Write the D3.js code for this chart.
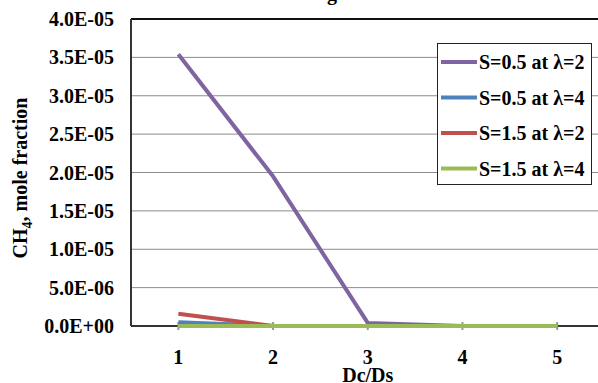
<!DOCTYPE html>
<meta charset="utf-8">
<head>
<script src="https://d3js.org/d3.v7.min.js"></script>
<style>
  body { margin: 0; background: #fff; }
  text { font-family: "Liberation Serif", "Times New Roman", serif; font-weight: bold; }
</style>
</head>
<body>
<div id="chart"></div>
<script>
  // data
  var categories = [1, 2, 3, 4, 5];
  var seriesNames = ["S=0.5 at \u03bb=2", "S=0.5 at \u03bb=4", "S=1.5 at \u03bb=2", "S=1.5 at \u03bb=4"];
  var s05l2 = [3.54e-5, 1.95e-5, 4.0e-7, 0, 0];
  var s05l4 = [5.0e-7, 0, 0, 0, 0];
  var s15l2 = [1.6e-6, 0, 0, 0, 0];
  var s15l4 = [0, 0, 0, 0, 0];
  var yTicks = [0, 5e-6, 1e-5, 1.5e-5, 2e-5, 2.5e-5, 3e-5, 3.5e-5, 4e-5];
  var yTickLabels = ["0.0E+00", "5.0E-06", "1.0E-05", "1.5E-05", "2.0E-05", "2.5E-05", "3.0E-05", "3.5E-05", "4.0E-05"];
  var colors = ["#8064A2", "#4F81BD", "#C0504D", "#9BBB59"];
  var allSeries = [s05l2, s05l4, s15l2, s15l4];

  var W = 598, H = 383;
  var plot = {left: 131, top: 19, bottom: 326, right: 604.5};

  var svg = d3.select("#chart").append("svg")
    .attr("width", W).attr("height", H);

  var x = d3.scaleBand().domain(categories).range([plot.left, plot.right]);
  var y = d3.scaleLinear().domain([0, 4e-5]).range([plot.bottom, plot.top]);
  var cx = function(c) { return x(c) + x.bandwidth() / 2; };

  // title, mostly above the window
  svg.append("text")
    .attr("x", 345).attr("y", 0)
    .attr("text-anchor", "middle")
    .style("font-size", "20px")
    .text("Figure 6");

  // gridlines
  svg.append("g")
    .selectAll("line")
    .data(yTicks.slice(1, -1))
    .enter()
    .append("line")
      .attr("x1", plot.left).attr("x2", plot.right)
      .attr("y1", function(d) { return y(d); })
      .attr("y2", function(d) { return y(d); })
      .attr("stroke", "#8c8c8c").attr("stroke-width", 1);

  // frame: top and left dark, bottom axis dark
  svg.append("line").attr("x1", plot.left).attr("x2", plot.right).attr("y1", y(4e-5)).attr("y2", y(4e-5))
    .attr("stroke", "#111").attr("stroke-width", 2);
  svg.append("line").attr("x1", plot.left).attr("x2", plot.left).attr("y1", plot.top).attr("y2", plot.bottom)
    .attr("stroke", "#333").attr("stroke-width", 2);
  svg.append("line").attr("x1", plot.left).attr("x2", plot.right).attr("y1", plot.bottom).attr("y2", plot.bottom)
    .attr("stroke", "#333").attr("stroke-width", 2);

  // x tick marks at categories
  svg.append("g")
    .selectAll("line")
    .data(categories)
    .enter()
    .append("line")
      .attr("x1", cx).attr("x2", cx)
      .attr("y1", plot.bottom - 4).attr("y2", plot.bottom + 4)
      .attr("stroke", "#999").attr("stroke-width", 2);

  // y tick labels
  svg.append("g")
    .selectAll("text")
    .data(yTicks)
    .enter()
    .append("text")
      .attr("x", 114)
      .attr("y", function(d) { return y(d) + 7; })
      .attr("text-anchor", "end")
      .style("font-size", "20px")
      .text(function(d, i) { return yTickLabels[i]; });

  // x tick labels
  svg.append("g")
    .selectAll("text")
    .data(categories)
    .enter()
    .append("text")
      .attr("x", cx)
      .attr("y", 364)
      .attr("text-anchor", "middle")
      .style("font-size", "20px")
      .text(function(d) { return d; });

  // axis titles
  svg.append("text")
    .attr("x", cx(3)).attr("y", 382)
    .attr("text-anchor", "middle")
    .style("font-size", "20px")
    .text("Dc/Ds");

  var yt = svg.append("text")
    .attr("transform", "translate(27,178) rotate(-90)")
    .attr("text-anchor", "middle")
    .style("font-size", "20px");
  yt.append("tspan").text("CH");
  yt.append("tspan").attr("dy", 5).style("font-size", "14px").text("4");
  yt.append("tspan").attr("dy", -5).text(", mole fraction");

  // lines
  var line = d3.line()
    .x(function(d, i) { return cx(categories[i]); })
    .y(function(d) { return y(d); });

  svg.append("g")
    .selectAll("path")
    .data(allSeries)
    .enter()
    .append("path")
      .attr("d", line)
      .attr("fill", "none")
      .attr("stroke", function(d, i) { return colors[i]; })
      .attr("stroke-width", 4)
      .attr("stroke-linejoin", "round");

  // legend
  var lg = svg.append("g");
  lg.append("rect")
    .attr("x", 437.5).attr("y", 43.5).attr("width", 154).attr("height", 141)
    .attr("fill", "#fff").attr("stroke", "#222").attr("stroke-width", 1);
  var rows = lg.selectAll("g.row")
    .data(seriesNames)
    .enter()
    .append("g")
      .attr("class", "row")
      .attr("transform", function(d, i) { return "translate(0," + (62 + i * 35.5) + ")"; });
  rows.append("line")
    .attr("x1", 441).attr("x2", 477).attr("y1", 0).attr("y2", 0)
    .attr("stroke", function(d, i) { return colors[i]; })
    .attr("stroke-width", 4);
  rows.append("text")
    .attr("x", 479).attr("y", 7)
    .style("font-size", "20px")
    .text(function(d) { return d; });
</script>
</body>
